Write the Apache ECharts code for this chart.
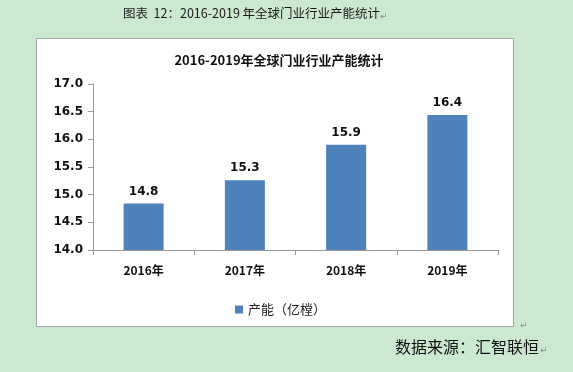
<!DOCTYPE html>
<html><head><meta charset="utf-8">
<script src="https://cdn.jsdelivr.net/npm/echarts@6/dist/echarts.min.js"></script>
<style>html,body{margin:0;padding:0;background:#cce8cf;}#c{width:573px;height:372px;}</style>
</head><body><div id="c"></div>
<script>
var categories = ['2016年', '2017年', '2018年', '2019年'];
var capacity = [14.84, 15.26, 15.9, 16.44];
var yTicks = [14.0, 14.5, 15.0, 15.5, 16.0, 16.5, 17.0];
var seriesName = '产能（亿樘）';
var chart = echarts.init(document.getElementById('c'));
var cjk = '"Noto Sans CJK SC", "DejaVu Sans", sans-serif';
chart.setOption({
  backgroundColor: '#cce8cf',
  animation: false,
  graphic: [
    {type: 'rect', shape: {x: 36.5, y: 38.5, width: 477, height: 288}, style: {fill: '#ffffff', stroke: '#a6a6a6', lineWidth: 1}, z: -10},
    {type: 'text', left: 123, top: 7, style: {text: '图表  12：2016-2019 年全球门业行业产能统计', font: '12.5px ' + cjk, fill: '#1a1a1a'}},
    {type: 'text', left: 380, top: 11, style: {text: '↵', font: '9px ' + cjk, fill: '#888'}},
    {type: 'text', left: 395, top: 339, style: {text: '数据来源：汇智联恒', font: '16px ' + cjk, fill: '#111'}},
    {type: 'text', left: 540, top: 345, style: {text: '↵', font: '9px ' + cjk, fill: '#888'}},
    {type: 'text', left: 520, top: 320, style: {text: '↵', font: '9px ' + cjk, fill: '#888'}}
  ],
  title: {
    text: '2016-2019年全球门业行业产能统计',
    left: 274, top: 49, textAlign: 'center',
    textStyle: {fontSize: 13, fontWeight: 'bold', color: '#111', fontFamily: cjk}
  },
  legend: {
    data: [seriesName], left: 230, top: 298, itemWidth: 8, itemHeight: 8, icon: 'rect', itemGap: 4,
    textStyle: {fontSize: 13, color: '#222', fontFamily: cjk}
  },
  grid: {left: 93, top: 84, right: 75, bottom: 122},
  xAxis: {
    type: 'category', data: categories,
    axisLine: {lineStyle: {color: '#999'}},
    axisTick: {show: true, alignWithLabel: false, length: 5, lineStyle: {color: '#999'}},
    axisLabel: {fontSize: 12, fontWeight: 'bold', color: '#111', margin: 14, fontFamily: cjk}
  },
  yAxis: {
    type: 'value', min: 14, max: 17, interval: 0.5,
    axisLine: {show: true, lineStyle: {color: '#999'}},
    axisTick: {show: true, length: 5, lineStyle: {color: '#999'}},
    splitLine: {show: false},
    axisLabel: {fontSize: 12, fontWeight: 'bold', color: '#111', margin: 10, fontFamily: 'DejaVu Sans, sans-serif',
      formatter: function (v) { return v.toFixed(1); }}
  },
  series: [{
    name: seriesName, type: 'bar', data: capacity, barWidth: 40,
    itemStyle: {color: '#4f81bd'},
    label: {show: true, position: 'top', distance: 6, fontSize: 12, fontWeight: 'bold', color: '#111',
      fontFamily: 'DejaVu Sans, sans-serif',
      formatter: function (p) { return (Math.round(p.value * 10) / 10).toFixed(1); }}
  }]
});
</script></body></html>
